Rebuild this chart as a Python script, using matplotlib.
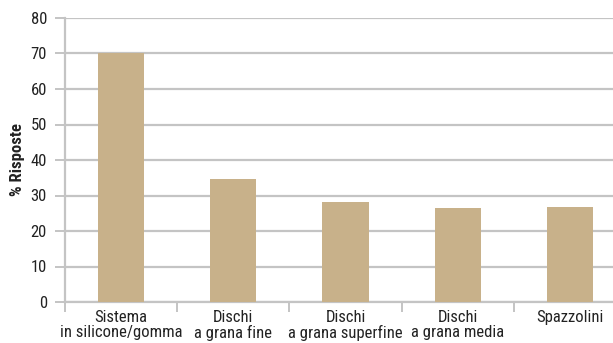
import matplotlib.pyplot as plt
import numpy as np

categorie = ["Sistema\nin silicone/gomma", "Dischi\na grana fine",
             "Dischi\na grana superfine", "Dischi\na grana media", "Spazzolini"]
risposte = [70, 34.7, 28.2, 26.5, 26.8]
yticks = [0, 10, 20, 30, 40, 50, 60, 70, 80]

plt.rcParams['font.family'] = ['Roboto Condensed', 'DejaVu Sans']

fig = plt.figure(figsize=(6.13, 3.43), dpi=100)
ax = fig.add_axes([65/613, 1 - 302/343, 561/613, 284/343])

x = np.arange(len(categorie))
ax.bar(x, risposte, width=0.41, color='#c8b18a', zorder=3)

ax.set_ylim(0, 80)
ax.set_xlim(-0.5, len(categorie) - 0.5)
ax.set_yticks(yticks)
ax.set_yticklabels([str(v) for v in yticks], fontsize=12, color='#222222')
ax.yaxis.grid(True, color='#c4c4c4', linewidth=1.6, zorder=0)
ax.set_axisbelow(True)

ax.set_xticks(x)
ax.set_xticklabels(categorie, fontsize=12, color='#222222', linespacing=0.95)
ax.tick_params(axis='x', length=0, pad=6)
ax.set_xticks(np.arange(len(categorie) + 1) - 0.5, minor=True)
ax.tick_params(axis='x', which='minor', length=7, width=1.4, color='#c4c4c4')
ax.tick_params(axis='y', length=7, width=1.4, color='#c4c4c4', pad=6)

for s in ['top', 'right']:
    ax.spines[s].set_visible(False)
for s in ['left', 'bottom']:
    ax.spines[s].set_color('#c4c4c4')
    ax.spines[s].set_linewidth(1.6)

ax.set_ylabel('% Risposte', fontsize=12, fontweight='bold', color='#222222', labelpad=4)

fig.savefig('out.png', dpi=100)
